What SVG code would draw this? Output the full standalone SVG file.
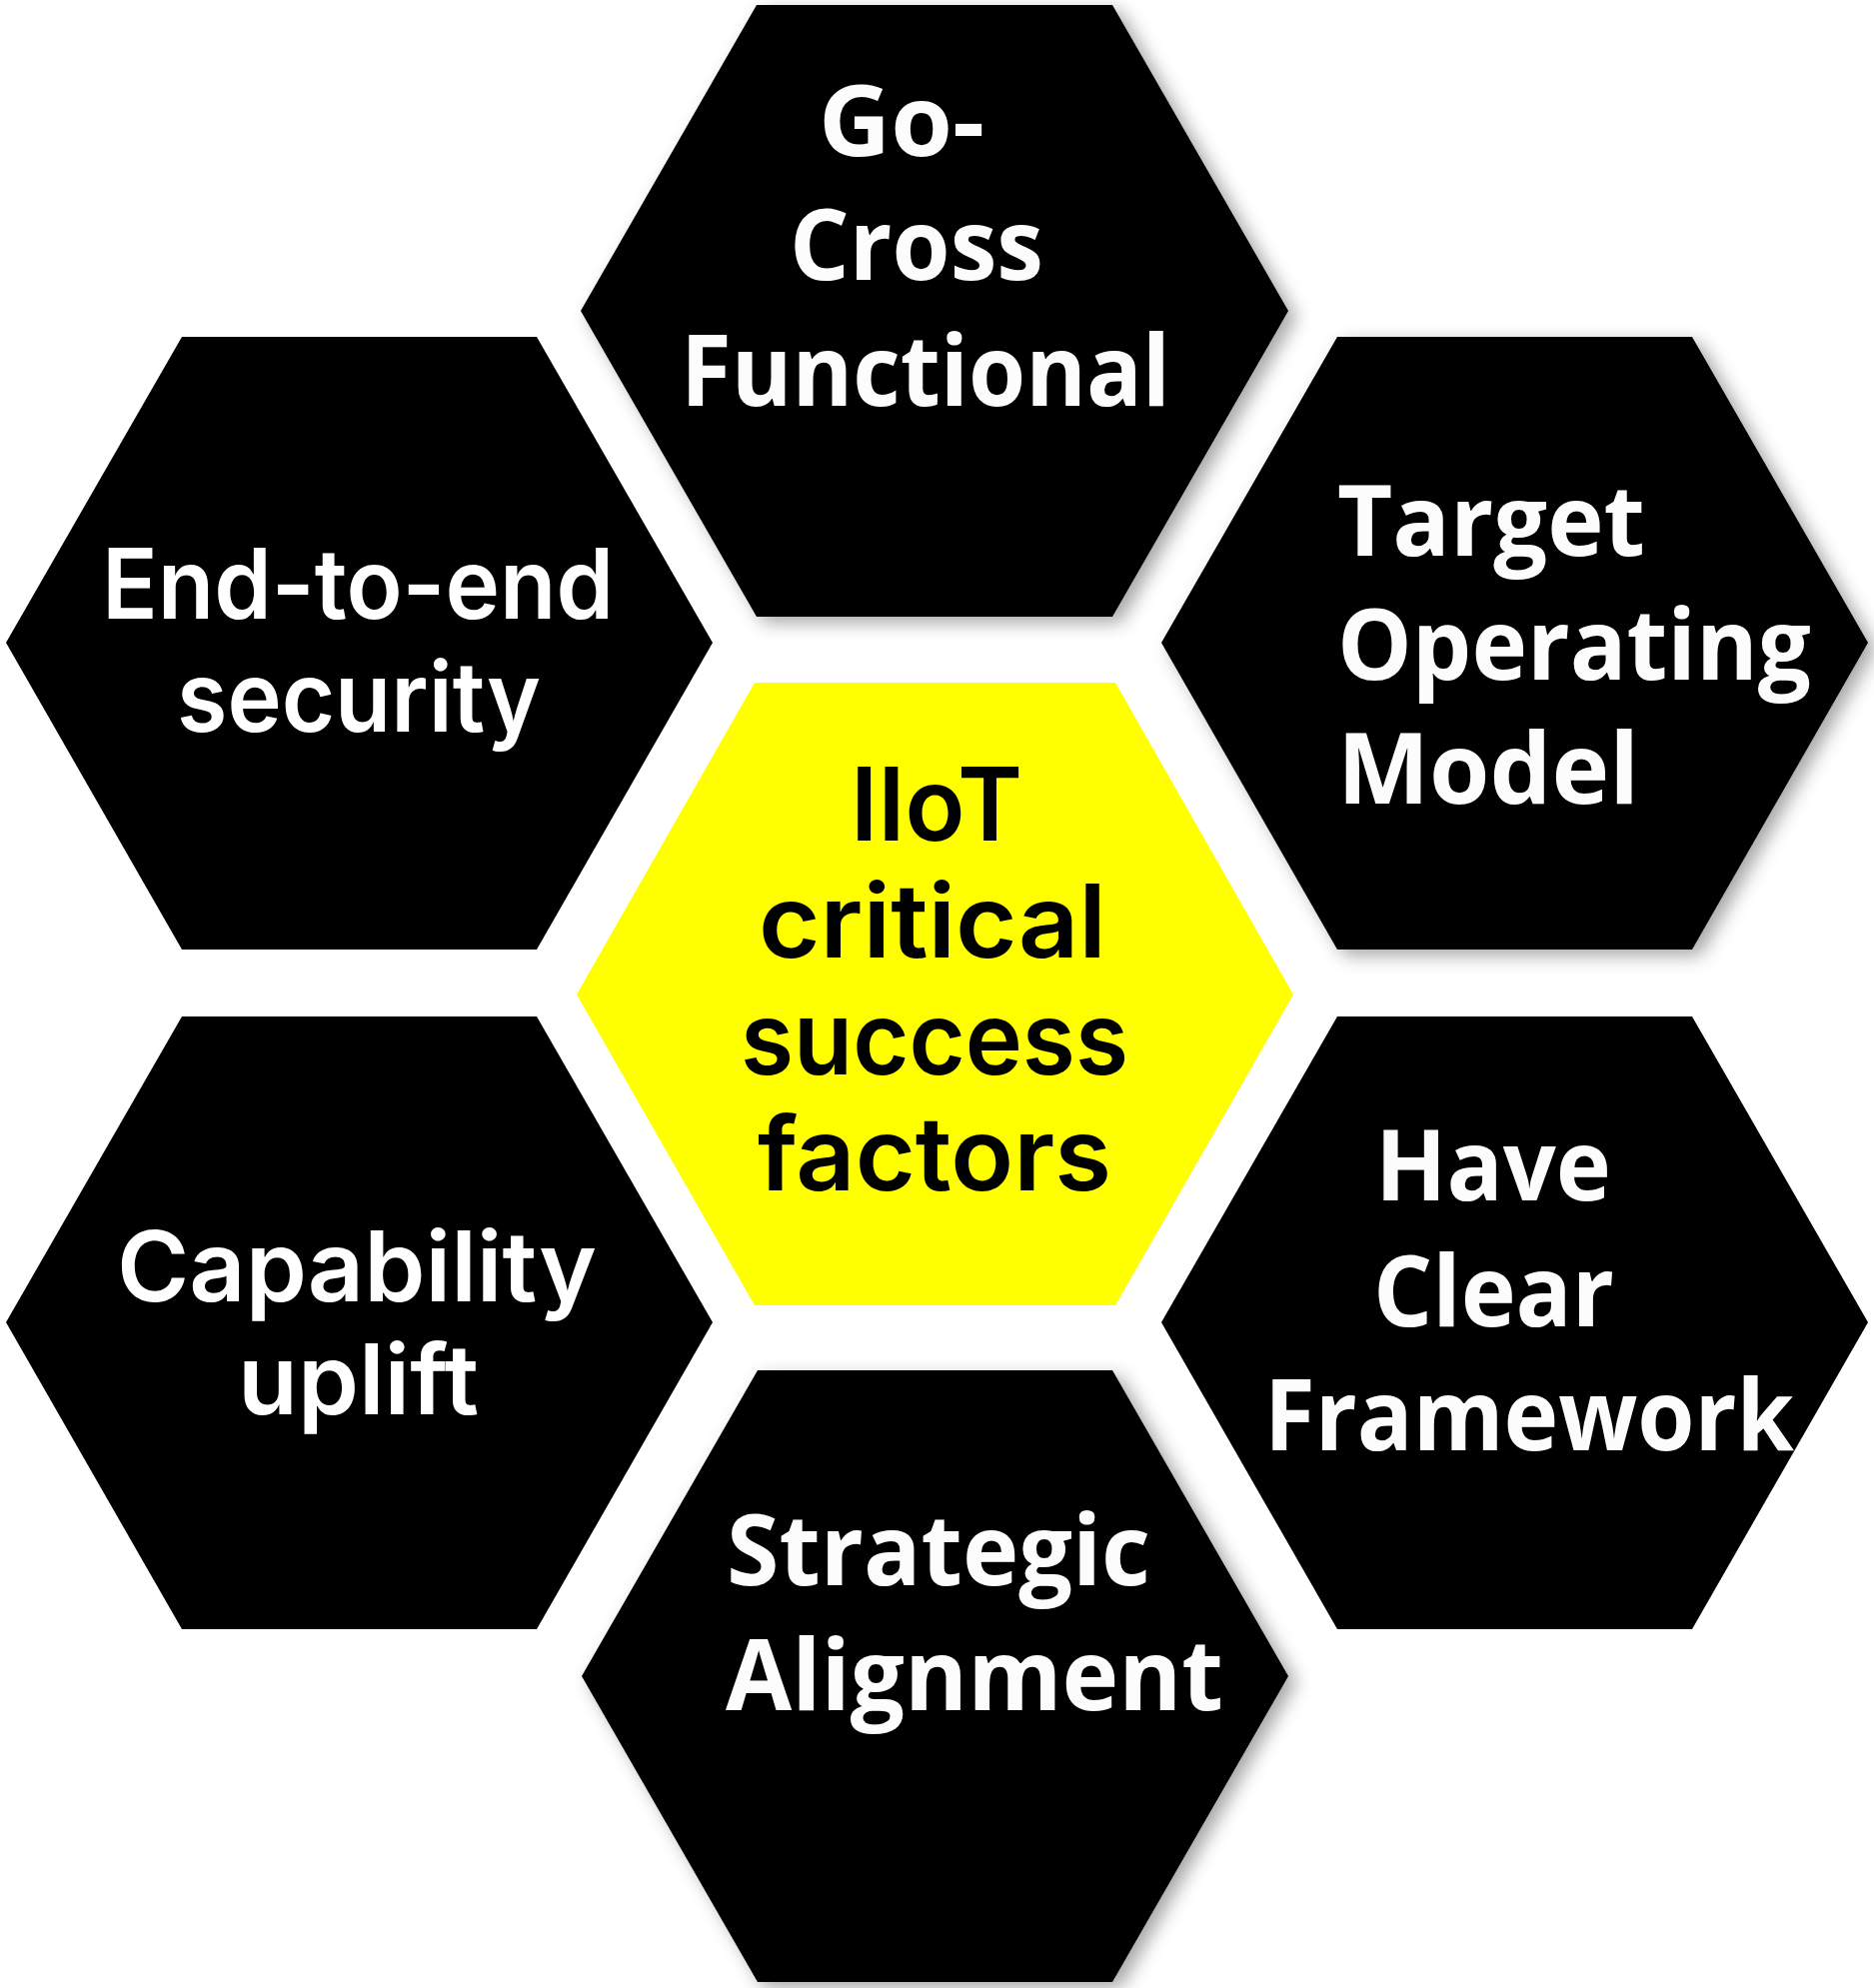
<svg xmlns="http://www.w3.org/2000/svg" width="1875" height="1989" viewBox="0 0 1875 1989">
  <style>
    .hex { fill: #000000; }
    .core { fill: #FFFF00; }
    .lbl-a { font-family: "Open Sans", "Noto Sans", "Liberation Sans", sans-serif; font-weight: 700; font-size: 98px; fill: #FCFCFC; }
    .lbl-b { font-family: Inter, "Noto Sans", "Liberation Sans", sans-serif; font-weight: 600; font-size: 97px; fill: #FFFFFF; }
    .lbl-c { font-family: Inter, "Noto Sans", "Liberation Sans", sans-serif; font-weight: 600; font-size: 102px; fill: #000000; }
  </style>
  <defs>
    <filter id="shadow" x="-10%" y="-10%" width="125%" height="125%">
      <feDropShadow dx="8" dy="6" stdDeviation="9" flood-color="#000000" flood-opacity="0.35"/>
    </filter>
  </defs>
  <rect x="0" y="0" width="1875" height="1989" fill="#FFFFFF"/>

  <g id="connectors"></g>

  <g id="node-top" filter="url(#shadow)">
    <polygon class="hex" points="757,5 1113,5 1289,311 1113,617 757,617 581,311"/>
    <text class="lbl-a" x="819" y="156" textLength="166" lengthAdjust="spacingAndGlyphs">Go-</text>
    <text class="lbl-a" x="790" y="280" textLength="254" lengthAdjust="spacingAndGlyphs">Cross</text>
    <text class="lbl-a" x="681" y="406" textLength="490" lengthAdjust="spacingAndGlyphs">Functional</text>
  </g>

  <g id="node-left-top">
    <polygon class="hex" points="182,337 537,337 713,643 537,950 182,950 6,643"/>
    <text class="lbl-b" x="102" y="619" textLength="512" lengthAdjust="spacingAndGlyphs">End-to-end</text>
    <text class="lbl-b" x="177" y="732" textLength="364" lengthAdjust="spacingAndGlyphs">security</text>
  </g>

  <g id="node-right-top" filter="url(#shadow)">
    <polygon class="hex" points="1338,337 1693,337 1869,643 1693,950 1338,950 1162,643"/>
    <text class="lbl-a" x="1338" y="556" textLength="308" lengthAdjust="spacingAndGlyphs">Target</text>
    <text class="lbl-a" x="1338" y="680" textLength="474" lengthAdjust="spacingAndGlyphs">Operating</text>
    <text class="lbl-a" x="1338" y="804" textLength="302" lengthAdjust="spacingAndGlyphs">Model</text>
  </g>

  <g id="node-center">
    <polygon class="core" points="755,683 1116,683 1294,995 1116,1306 755,1306 577,995"/>
    <text class="lbl-c" x="851" y="841" textLength="172" lengthAdjust="spacingAndGlyphs">IIoT</text>
    <text class="lbl-c" x="759" y="958" textLength="348" lengthAdjust="spacingAndGlyphs">critical</text>
    <text class="lbl-c" x="741" y="1075" textLength="388" lengthAdjust="spacingAndGlyphs">success</text>
    <text class="lbl-c" x="758" y="1191" textLength="354" lengthAdjust="spacingAndGlyphs">factors</text>
  </g>

  <g id="node-left-bottom">
    <polygon class="hex" points="182,1017 537,1017 713,1323 537,1630 182,1630 6,1323"/>
    <text class="lbl-b" x="117" y="1302" textLength="480" lengthAdjust="spacingAndGlyphs">Capability</text>
    <text class="lbl-b" x="238" y="1415" textLength="241" lengthAdjust="spacingAndGlyphs">uplift</text>
  </g>

  <g id="node-right-bottom">
    <polygon class="hex" points="1338,1017 1693,1017 1869,1323 1693,1630 1338,1630 1162,1323"/>
    <text class="lbl-a" x="1376" y="1201" textLength="236" lengthAdjust="spacingAndGlyphs">Have</text>
    <text class="lbl-a" x="1374" y="1327" textLength="241" lengthAdjust="spacingAndGlyphs">Clear</text>
    <text class="lbl-a" x="1265" y="1451" textLength="530" lengthAdjust="spacingAndGlyphs">Framework</text>
  </g>

  <g id="node-bottom" filter="url(#shadow)">
    <polygon class="hex" points="758,1371 1113,1371 1289,1677 1113,1983 758,1983 582,1677"/>
    <text class="lbl-a" x="727" y="1586" textLength="424" lengthAdjust="spacingAndGlyphs">Strategic</text>
    <text class="lbl-a" x="726" y="1711" textLength="498" lengthAdjust="spacingAndGlyphs">Alignment</text>
  </g>
</svg>
